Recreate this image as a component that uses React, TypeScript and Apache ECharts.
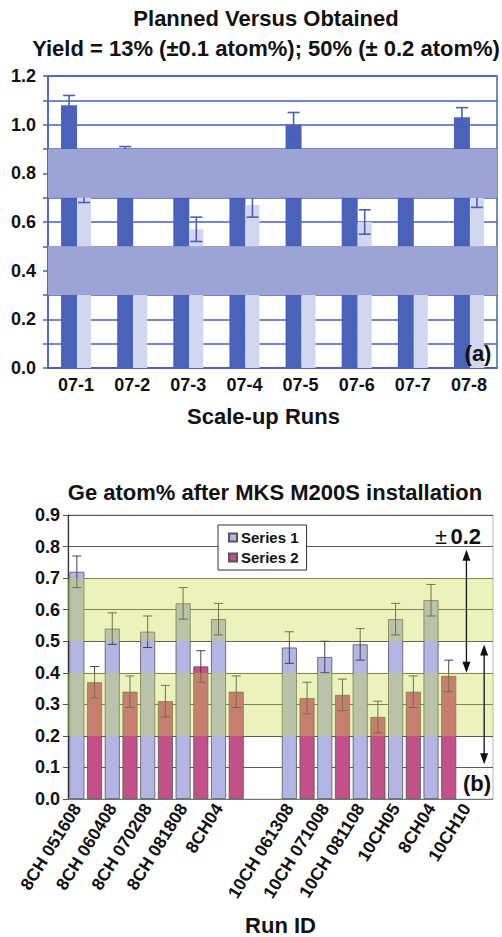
import React, { useEffect, useRef } from 'react';
import * as echarts from 'echarts';

const FONT = '"Liberation Sans", Arial, Helvetica, sans-serif';

// ---- Panel (a): planned versus obtained yield per scale-up run ----
const scaleUpRuns = ['07-1', '07-2', '07-3', '07-4', '07-5', '07-6', '07-7', '07-8'];
const plannedYield = [1.08, 0.88, 0.85, 0.84, 1.0, 0.82, 0.85, 1.03];
const plannedErr = [0.04, 0.03, 0.04, 0.04, 0.05, 0.04, 0.04, 0.04];
const obtainedYield = [0.72, 0.45, 0.57, 0.67, 0.44, 0.6, 0.42, 0.7];
const obtainedErr = [0.04, 0.04, 0.05, 0.05, 0.04, 0.05, 0.04, 0.04];
// shaded horizontal bands laid over the plot [from, to]
const maskBands = [
  [0.7, 0.9],
  [0.3, 0.5],
];

// ---- Panel (b): Ge atom% after MKS M200S installation ----
const runIds = [
  '8CH 051608',
  '8CH 060408',
  '8CH 070208',
  '8CH 081808',
  '8CH04',
  '',
  '10CH 061308',
  '10CH 071008',
  '10CH 081108',
  '10CH05',
  '8CH04',
  '10CH10',
];
const series1 = [0.72, 0.54, 0.53, 0.62, 0.57, null, 0.48, 0.45, 0.49, 0.57, 0.63, null];
const series1Err = [0.05, 0.05, 0.05, 0.05, 0.05, null, 0.05, 0.05, 0.05, 0.05, 0.05, null];
const series2 = [0.37, 0.34, 0.31, 0.42, 0.34, null, 0.32, 0.33, 0.26, 0.34, 0.39, null];
const series2Err = [0.05, 0.05, 0.05, 0.05, 0.05, null, 0.05, 0.05, 0.05, 0.05, 0.05, null];
// target windows shaded green [from, to]
const targetBands = [
  [0.5, 0.7],
  [0.2, 0.4],
];
// ±0.2 range arrows in the last run's two slots [top, bottom]
const toleranceArrows = [
  [0.79, 0.4],
  [0.49, 0.11],
];

// each run takes two slots on the axis: Series 1 then Series 2
const slotKeys = runIds.flatMap((_, i) => [`r${i}a`, `r${i}b`]);
const slotData = (vals: (number | null)[], part: 0 | 1) =>
  slotKeys.map((_, s) => (s % 2 === part ? vals[(s - part) / 2] : null));

type Num = number | null;

function errorBars(
  vals: Num[],
  errs: Num[],
  slotOf: (i: number) => number,
  offset: number,
  capHalf: number,
  color: string,
  axis: number,
  width: number
) {
  const data: number[][] = [];
  vals.forEach((v, i) => {
    if (v != null && errs[i] != null) data.push([slotOf(i), v, errs[i] as number]);
  });
  return {
    type: 'custom',
    xAxisIndex: axis,
    yAxisIndex: axis,
    z: 4,
    silent: true,
    encode: { x: 0, y: 1 },
    data,
    renderItem: (_params: any, api: any) => {
      const x = api.value(0);
      const v = api.value(1);
      const e = api.value(2);
      const hi = api.coord([x, v + e]);
      const lo = api.coord([x, v - e]);
      const cx = hi[0] + offset;
      const style = { stroke: color, lineWidth: width };
      return {
        type: 'group',
        children: [
          { type: 'line', shape: { x1: cx, y1: hi[1], x2: cx, y2: lo[1] }, style },
          { type: 'line', shape: { x1: cx - capHalf, y1: hi[1], x2: cx + capHalf, y2: hi[1] }, style },
          { type: 'line', shape: { x1: cx - capHalf, y1: lo[1], x2: cx + capHalf, y2: lo[1] }, style },
        ],
      };
    },
  };
}

function bandSeries(bands: number[][], axis: number, fill: string, z: number) {
  return {
    type: 'custom',
    xAxisIndex: axis,
    yAxisIndex: axis,
    z,
    silent: true,
    encode: { x: 0, y: [1, 2] },
    data: bands.map(([a, b]) => [0, a, b]),
    renderItem: (params: any, api: any) => {
      const cs = params.coordSys;
      const y1 = api.coord([0, api.value(2)])[1];
      const y2 = api.coord([0, api.value(1)])[1];
      return {
        type: 'rect',
        shape: { x: cs.x, y: y1, width: cs.width, height: y2 - y1 },
        style: { fill },
      };
    },
  };
}

function arrowSeries(arrows: number[][], firstSlot: number, axis: number) {
  return {
    type: 'custom',
    xAxisIndex: axis,
    yAxisIndex: axis,
    z: 12,
    silent: true,
    encode: { x: 0, y: [1, 2] },
    data: arrows.map(([a, b], i) => [firstSlot + i, a, b]),
    renderItem: (_params: any, api: any) => {
      const x = api.value(0);
      const top = api.coord([x, api.value(1)]);
      const bot = api.coord([x, api.value(2)]);
      const cx = top[0];
      const hw = 4;
      const hl = 11;
      const style = { fill: '#111' };
      return {
        type: 'group',
        children: [
          {
            type: 'line',
            shape: { x1: cx, y1: top[1] + hl - 1, x2: cx, y2: bot[1] - hl + 1 },
            style: { stroke: '#111', lineWidth: 1.3 },
          },
          {
            type: 'polygon',
            shape: { points: [[cx, top[1]], [cx - hw, top[1] + hl], [cx + hw, top[1] + hl]] },
            style,
          },
          {
            type: 'polygon',
            shape: { points: [[cx, bot[1]], [cx - hw, bot[1] - hl], [cx + hw, bot[1] - hl]] },
            style,
          },
        ],
      };
    },
  };
}

const BLUE = '#4a5fbf';
const GRID_B = '#5c5c5c';

function buildOption(): any {
  const lastRun = runIds.length - 1;
  return {
    animation: false,
    backgroundColor: '#ffffff',
    textStyle: { fontFamily: FONT },
    graphic: [
      {
        type: 'text',
        x: 266,
        y: 18,
        style: {
          text: 'Planned Versus Obtained',
          font: `bold 22px ${FONT}`,
          fill: '#111',
          align: 'center',
          verticalAlign: 'middle',
        },
      },
      {
        type: 'text',
        x: 266,
        y: 48,
        style: {
          text: 'Yield = 13% (±0.1 atom%); 50% (± 0.2 atom%)',
          font: `bold 22px ${FONT}`,
          fill: '#111',
          align: 'center',
          verticalAlign: 'middle',
        },
      },
      {
        type: 'text',
        x: 478,
        y: 353,
        z: 20,
        style: {
          text: '(a)',
          font: `bold 22px ${FONT}`,
          fill: '#111',
          align: 'center',
          verticalAlign: 'middle',
        },
      },
      {
        type: 'text',
        x: 275,
        y: 492,
        style: {
          text: 'Ge atom% after MKS M200S installation',
          font: `bold 22px ${FONT}`,
          fill: '#111',
          align: 'center',
          verticalAlign: 'middle',
        },
      },
      {
        type: 'text',
        x: 481,
        y: 536,
        z: 20,
        style: {
          text: '{pm|±} {num|0.2}',
          align: 'right',
          verticalAlign: 'middle',
          rich: {
            pm: { font: `22px ${FONT}`, fill: '#111' },
            num: { font: `bold 22px ${FONT}`, fill: '#111' },
          },
        },
      },
      {
        type: 'text',
        x: 477,
        y: 783,
        z: 20,
        style: {
          text: '(b)',
          font: `bold 22px ${FONT}`,
          fill: '#111',
          align: 'center',
          verticalAlign: 'middle',
        },
      },
    ],
    grid: [
      { left: 48, top: 76, width: 449, height: 292, show: true, borderColor: BLUE, borderWidth: 1.5 },
      { left: 68, top: 515, width: 425, height: 285, show: true, borderColor: '#b5b5b5', borderWidth: 1 },
    ],
    xAxis: [
      {
        type: 'category',
        gridIndex: 0,
        data: scaleUpRuns,
        axisLine: { lineStyle: { color: BLUE, width: 1.5 } },
        axisTick: { length: 6, lineStyle: { color: BLUE, width: 1.5 } },
        axisLabel: { color: '#111', fontSize: 18, fontWeight: 'bold', fontFamily: FONT, margin: 8 },
        name: 'Scale-up Runs',
        nameLocation: 'middle',
        nameGap: 37,
        nameTextStyle: {
          color: '#111',
          fontSize: 22,
          fontWeight: 'bold',
          fontFamily: FONT,
          padding: [0, 18, 0, 0],
        },
      },
      {
        type: 'category',
        gridIndex: 1,
        data: slotKeys,
        axisLine: { lineStyle: { color: '#777', width: 1 } },
        axisTick: { interval: 0, length: 5, lineStyle: { color: '#777' } },
        axisLabel: {
          interval: 0,
          rotate: 58,
          margin: 6,
          color: '#111',
          fontSize: 17.5,
          fontWeight: 'bold',
          fontFamily: FONT,
          formatter: (_v: string, idx: number) => (idx % 2 === 0 ? runIds[idx / 2] : ''),
        },
        name: 'Run ID',
        nameLocation: 'middle',
        nameGap: 115,
        nameTextStyle: { color: '#111', fontSize: 22, fontWeight: 'bold', fontFamily: FONT },
      },
    ],
    yAxis: [
      {
        type: 'value',
        gridIndex: 0,
        min: 0,
        max: 1.2,
        interval: 0.1,
        axisLine: { show: true, lineStyle: { color: BLUE, width: 1.5 } },
        axisTick: { show: true, length: 5, lineStyle: { color: BLUE, width: 1.5 } },
        axisLabel: {
          color: '#111',
          fontSize: 18,
          fontWeight: 'bold',
          fontFamily: FONT,
          margin: 12,
          formatter: (v: number) => (Math.round(v * 10) % 2 === 0 ? v.toFixed(1) : ''),
        },
        splitLine: { lineStyle: { color: BLUE, width: 1.5 } },
      },
      {
        type: 'value',
        gridIndex: 1,
        min: 0,
        max: 0.9,
        interval: 0.1,
        axisLine: { show: true, lineStyle: { color: '#333', width: 1.2 } },
        axisTick: { show: true, length: 5, lineStyle: { color: '#555' } },
        axisLabel: {
          color: '#111',
          fontSize: 18,
          fontWeight: 'bold',
          fontFamily: FONT,
          margin: 8,
          formatter: (v: number) => v.toFixed(1),
        },
        splitLine: { lineStyle: { color: GRID_B, width: 1.2 } },
      },
    ],
    legend: {
      data: ['Series 1', 'Series 2'],
      orient: 'vertical',
      left: 218,
      top: 525,
      padding: [5, 8, 5, 10],
      itemWidth: 8,
      itemHeight: 8,
      itemGap: 5,
      icon: 'rect',
      backgroundColor: '#ffffff',
      borderColor: '#333',
      borderWidth: 1,
      borderRadius: 0,
      textStyle: { color: '#111', fontSize: 15, fontWeight: 'bold', fontFamily: FONT, padding: [0, 0, 0, -1] },
    },
    series: [
      // panel (a)
      {
        type: 'bar',
        name: 'Planned',
        xAxisIndex: 0,
        yAxisIndex: 0,
        data: plannedYield,
        barWidth: 16,
        barGap: '0%',
        itemStyle: { color: '#4a62b8' },
        z: 2,
      },
      {
        type: 'bar',
        name: 'Obtained',
        xAxisIndex: 0,
        yAxisIndex: 0,
        data: obtainedYield,
        barWidth: 14,
        barGap: '0%',
        itemStyle: { color: '#d3d6ef' },
        z: 2,
      },
      errorBars(plannedYield, plannedErr, (i) => i, -7, 6, '#4a5fb5', 0, 1.6),
      errorBars(obtainedYield, obtainedErr, (i) => i, 8, 6, '#4a5fb5', 0, 1.6),
      bandSeries(maskBands, 0, '#9ea3d6', 10),
      // panel (b)
      {
        type: 'bar',
        name: 'Series 1',
        xAxisIndex: 1,
        yAxisIndex: 1,
        data: slotData(series1, 0),
        barWidth: 15,
        barGap: '-100%',
        itemStyle: { color: '#b3b6e4', borderColor: '#555', borderWidth: 0.8 },
        z: 2,
      },
      {
        type: 'bar',
        name: 'Series 2',
        xAxisIndex: 1,
        yAxisIndex: 1,
        data: slotData(series2, 1),
        barWidth: 15,
        barGap: '-100%',
        itemStyle: { color: '#c4508a', borderColor: '#555', borderWidth: 0.8 },
        z: 2,
      },
      errorBars(series1, series1Err, (i) => 2 * i, 0, 4.5, '#444', 1, 1),
      errorBars(series2, series2Err, (i) => 2 * i + 1, 0, 4.5, '#444', 1, 1),
      bandSeries(targetBands, 1, 'rgba(200, 218, 60, 0.34)', 10),
      arrowSeries(toleranceArrows, 2 * lastRun, 1),
    ],
  };
}

export default function App() {
  const ref = useRef<HTMLDivElement>(null);
  useEffect(() => {
    if (!ref.current) return;
    const chart = echarts.init(ref.current, null, { renderer: 'svg' });
    chart.setOption(buildOption());
    return () => chart.dispose();
  }, []);
  return (
    <div
      ref={ref}
      style={{ position: 'fixed', left: 0, top: 0, width: 502, height: 937, background: '#fff' }}
    />
  );
}
